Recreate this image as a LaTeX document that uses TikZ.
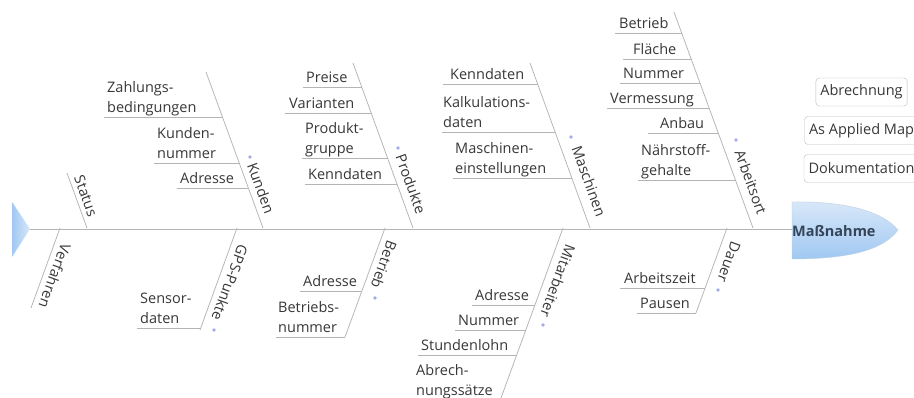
\documentclass[tikz,border=0pt]{standalone}
\usepackage{fontspec}
\setmainfont{Open Sans}
\usetikzlibrary{calc}
\definecolor{txt}{HTML}{383838}
\definecolor{linegray}{HTML}{B4B4B4}
\definecolor{dotblue}{HTML}{A4ACE8}
\definecolor{boxgray}{HTML}{BDBDBD}
\definecolor{headtop}{HTML}{D9E8F9}
\definecolor{headbot}{HTML}{A0C8F2}
\definecolor{headtxt}{HTML}{34455A}
\newcommand\fbfont{\fontsize{14.5}{20}\selectfont}
\tikzset{
  bone/.style={draw=linegray, line width=0.75pt},
  twig/.style={draw=linegray, line width=0.75pt},
  leaf/.style={inner sep=0pt, align=left, text=txt, font=\fbfont},
  catup/.style={inner sep=0pt, text=txt, font=\fbfont, rotate=-70},
  catdown/.style={inner sep=0pt, text=txt, font=\fbfont, rotate=-110},
  fbdot/.style={circle, fill=dotblue, inner sep=0pt, minimum size=3.8pt},
  sidebox/.style={draw=boxgray, rounded corners=3.5pt, fill=white, inner xsep=4.5pt,
    inner ysep=0pt, minimum height=28pt, text=txt, font=\fbfont},
}
% name, line y, bone x, text left x, line left x, text
\newcommand\fbtw[6]{%
  \coordinate (#1a) at (#5,#2);
  \coordinate (#1b) at (#3,#2);
  \node[leaf, anchor=south west] (#1) at (#4,#2-1) {#6\vphantom{g}};
  \draw[twig] (#1a) -- (#1b);
}
\begin{document}
\begin{tikzpicture}[x=1pt, y=-1pt]
\useasboundingbox (0,0) rectangle (914,398);
\clip (0,0) rectangle (914,398);
\fill[white] (0,0) rectangle (914,398);

% tail and head
\coordinate (tail) at (30,229);
\coordinate (head) at (792,229);
\shade[left color=headbot, right color=headtop] (12,202) -- (tail) -- (12,257) -- cycle;
\shade[top color=headtop, bottom color=headbot, draw=headbot!80!black!50, line width=0.4pt]
  (792,202) .. controls (850,201) and (884,213) .. (898,230)
  .. controls (886,246) and (860,259) .. (792,259) -- cycle;
\node[anchor=west, inner sep=0pt, font=\fontsize{14.5}{20}\selectfont\bfseries, text=headtxt] (mass) at (792,231) {Maßnahme};
\draw[bone] (tail) -- (head);

% upper bones
\coordinate (sS) at (87,228);  \coordinate (sT) at (67,173);
\coordinate (kS) at (263,228); \coordinate (kT) at (206,72);
\coordinate (pS) at (413,228); \coordinate (pT) at (353,63);
\coordinate (mS) at (590,228); \coordinate (mT) at (530,63);
\coordinate (aS) at (753,228); \coordinate (aT) at (674,12);
\foreach \b in {s,k,p,m,a} \draw[bone] (\b T) -- (\b S);

% lower bones
\coordinate (vS) at (60,228);  \coordinate (vB) at (31,308);
\coordinate (gS) at (237,228); \coordinate (gB) at (200,330);
\coordinate (bS) at (385,228); \coordinate (bB) at (345,337);
\coordinate (iS) at (563,228); \coordinate (iB) at (501,398);
\coordinate (dS) at (727,228); \coordinate (dB) at (696,313);
\foreach \b in {v,g,b,i,d} \draw[bone] (\b S) -- (\b B);

% bone labels
\node[catup] (lStatus) at (86,196) {Status};
\node[catup] (lKunden) at (261,188) {Kunden};
\node[catup] (lProdukte) at (411,184) {Produkte};
\node[catup] (lMaschinen) at (589,181) {Maschinen};
\node[catup] (lArbeitsort) at (751,182) {Arbeitsort};
\node[catdown] (lVerfahren) at (55,276) {Verfahren};
\node[catdown] (lGPS) at (230,283) {GPS-Punkte};
\node[catdown] (lBetrieb) at (384,265) {Betrieb};
\node[catdown] (lMitarbeiter) at (558,281) {Mitarbeiter};
\node[catdown] (lDauer) at (729,262) {Dauer};

% dots
\node[fbdot] (dK) at (250,157) {};
\node[fbdot] (dP) at (398,148) {};
\node[fbdot] (dM) at (571,137) {};
\node[fbdot] (dA) at (736,140) {};
\node[fbdot] (dG) at (214,330) {};
\node[fbdot] (dB) at (375,298) {};
\node[fbdot] (dI) at (543,325) {};
\node[fbdot] (dD) at (718,290) {};

% Kunden
\fbtw{k1}{117}{222.6}{107}{104}{Zahlungs-\\bedingungen}
\fbtw{k2}{163}{239.3}{157}{154}{Kunden-\\nummer}
\fbtw{k3}{188}{248.4}{180}{177}{Adresse}
% Produkte
\fbtw{p1}{87}{361.7}{306}{303}{Preise}
\fbtw{p2}{113}{371.1}{289}{285}{Varianten}
\fbtw{p3}{158}{387.5}{305}{302}{Produkt-\\gruppe}
\fbtw{p4}{184}{397}{308}{305}{Kenndaten}
% Maschinen
\fbtw{m1}{84}{537.6}{450}{443}{Kenndaten}
\fbtw{m2}{132}{555.1}{443}{442}{Kalkulations-\\daten}
\fbtw{m3}{178}{571.8}{455}{453}{Maschinen-\\einstellungen}
% Arbeitsort
\fbtw{a1}{33}{682}{619}{615}{Betrieb}
\fbtw{a2}{59}{691.5}{633}{623}{Fläche}
\fbtw{a3}{83}{700.2}{623}{620}{Nummer}
\fbtw{a4}{108}{709.3}{610}{607}{Vermessung}
\fbtw{a5}{133}{718.4}{660}{648}{Anbau}
\fbtw{a6}{180}{735.5}{641}{638}{Nährstoff-\\gehalte}
% GPS-Punkte
\fbtw{g1}{328}{200.6}{140}{137}{Sensor-\\daten}
% Betrieb
\fbtw{b1}{291}{362}{303}{300}{Adresse}
\fbtw{b2}{337}{345.3}{278}{276}{Betriebs-\\nummer}
% Mitarbeiter
\fbtw{i1}{305}{535}{475}{472}{Adresse}
\fbtw{i2}{330}{525.9}{458}{455}{Nummer}
\fbtw{i3}{355}{516.8}{421}{418}{Stundenlohn}
\node[leaf, anchor=south west] (i4) at (416,399) {Abrech-\\nungssätze\vphantom{g}};
% Dauer
\fbtw{d1}{288}{705.2}{624}{620}{Arbeitszeit}
\fbtw{d2}{313}{696}{640}{637}{Pausen}

% side boxes
\node[sidebox] (abr) at (861.5,92) {Abrechnung};
\node[sidebox] (aam) at (861.5,130.5) {As Applied Map};
\node[sidebox] (dok) at (861.5,168.5) {Dokumentation};
\end{tikzpicture}
\end{document}
